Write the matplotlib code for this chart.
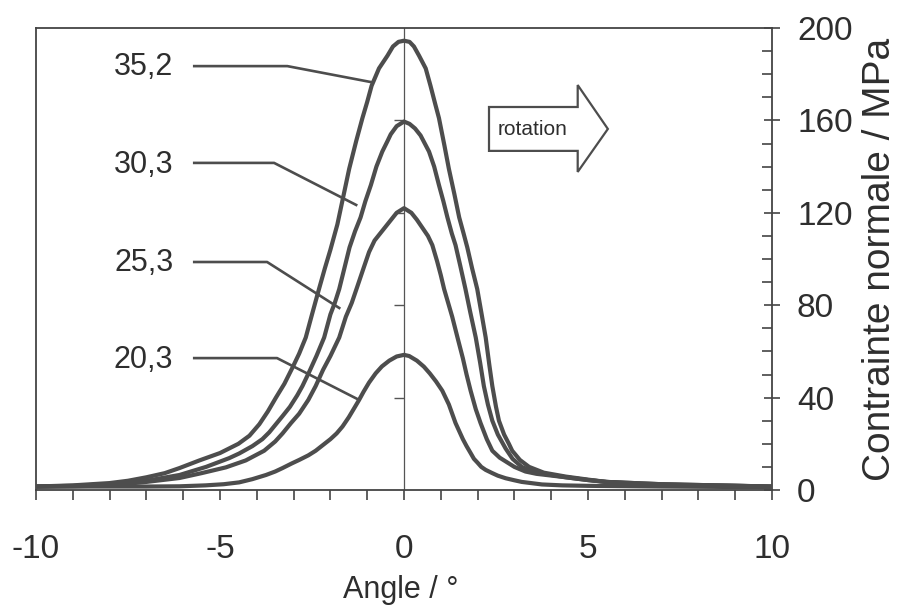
import numpy as np
import matplotlib
matplotlib.use("Agg")
import matplotlib.pyplot as plt
from matplotlib.patches import Polygon

plt.rcParams['axes.unicode_minus'] = False
NARROW = ['Liberation Sans Narrow', 'Liberation Sans', 'DejaVu Sans']
REG = ['Liberation Sans', 'DejaVu Sans']

# ---- data ----
labels = ["35,2", "30,3", "25,3", "20,3"]

x_352 = [-10, -9, -8, -7.5, -7, -6.5, -6.1, -5.56, -5.0, -4.5, -4.2, -3.93, -3.7, -3.48, -3.25,
         -3.03, -2.85, -2.67, -2.5, -2.31, -2.15, -2.0, -1.81, -1.65, -1.49, -1.3, -1.13, -1.0,
         -0.88, -0.68, -0.45, -0.3, -0.15, 0, 0.15, 0.27, 0.41, 0.59, 0.72, 0.85, 0.95, 1.1,
         1.22, 1.37, 1.5, 1.62, 1.72, 1.85, 1.99, 2.1, 2.22, 2.32, 2.4, 2.5, 2.58, 2.72, 2.85,
         2.94, 3.15, 3.4, 3.8, 4.4, 5.0, 5.5, 6.5, 8, 9, 10]
y_352 = [1.5, 2, 3, 4, 5.5, 7.3, 9.5, 12.8, 16, 20, 23.5, 28.5, 34, 40, 46,
         53, 59, 66, 76, 87, 96, 104, 115, 127, 139, 151, 161, 168,
         175, 182.5, 188, 192, 194, 194.5, 194, 192, 188, 182.5, 175, 167, 161, 149,
         139, 128, 118, 111, 105, 96, 87, 77, 66, 54, 45, 36, 30, 24, 20,
         17, 13, 10, 7.5, 5.8, 4.5, 3.5, 2.5, 2, 1.8, 1.5]

x_303 = [-10, -9, -8, -7, -6.1, -5.38, -4.75, -4.48, -4.12, -3.85, -3.66, -3.48, -3.3, -3.1,
         -2.9, -2.76, -2.58, -2.38, -2.17, -2.0, -1.88, -1.76, -1.62, -1.48, -1.33, -1.18,
         -1.05, -0.9, -0.75, -0.59, -0.45, -0.36, -0.2, 0, 0.15, 0.3, 0.45, 0.68, 0.82, 0.95,
         1.07, 1.18, 1.3, 1.4, 1.53, 1.67, 1.8, 1.95, 2.07, 2.17, 2.28, 2.4, 2.55, 2.76, 2.95,
         3.2, 3.5, 3.8, 4.4, 5.0, 5.5, 7, 8.5, 10]
y_303 = [1.5, 1.8, 2.5, 4, 6.5, 10, 13.8, 15.8, 19, 22, 25, 28.5, 32, 36,
         41, 45, 51, 58, 66, 76, 81, 87, 96, 105, 112, 118,
         125, 132, 140, 146.5, 151, 154, 157.5, 159.5, 158.5, 156.5, 153.5, 146.5, 140, 132,
         125, 118, 111, 106, 97, 87, 77, 66, 55, 45, 37, 30, 24, 18, 13.5,
         10, 8, 7, 5.5, 4.3, 3.5, 2.5, 2, 1.5]

x_253 = [-10, -9, -8, -7, -6.1, -5.5, -4.84, -4.3, -3.8, -3.5, -3.3, -3.07, -2.85, -2.6, -2.4,
         -2.2, -2.0, -1.76, -1.58, -1.42, -1.27, -1.1, -0.95, -0.8, -0.65, -0.5, -0.35, -0.2,
         0, 0.2, 0.35, 0.5, 0.65, 0.77, 0.9, 1.0, 1.09, 1.2, 1.31, 1.47, 1.6, 1.7, 1.81, 1.95,
         2.08, 2.25, 2.4, 2.6, 2.8, 3.0, 3.3, 3.6, 4.4, 5.0, 5.5, 7, 8.5, 10]
y_253 = [1.5, 1.6, 2, 3.5, 5.2, 7.3, 9.8, 12.8, 17, 21, 24.5, 29, 33, 39, 45,
         52, 58, 66, 75, 81, 88, 96, 103, 108, 111, 114, 117, 120,
         122, 120, 117, 113.5, 110, 106, 99, 93, 87, 81, 75, 65, 57, 50, 43, 35,
         29, 22, 17, 14, 12, 10, 8, 7, 5.5, 4.3, 3.5, 2.5, 2, 1.5]

x_203 = [-10, -9, -8, -7, -6.1, -5.4, -4.9, -4.48, -4.12, -3.75, -3.5, -3.3, -3.05, -2.85, -2.6,
         -2.4, -2.2, -2.0, -1.83, -1.67, -1.5, -1.35, -1.22, -1.1, -0.95, -0.77, -0.6, -0.4,
         -0.2, 0, 0.14, 0.35, 0.54, 0.7, 0.87, 1.04, 1.13, 1.22, 1.31, 1.4, 1.5, 1.6, 1.7,
         1.81, 1.9, 2.0, 2.1, 2.22, 2.4, 2.55, 2.76, 3.0, 3.2, 3.75, 4.3, 5, 7, 10]
y_203 = [1.5, 1.5, 1.5, 1.5, 1.6, 2, 2.5, 3.3, 4.7, 6.5, 8, 9.5, 11.5, 13, 15,
         17, 19.5, 22, 24.5, 27.5, 31.5, 35.5, 39, 42.5, 46.5, 50.5, 53.5, 56,
         57.8, 58.5, 58, 56, 53.4, 50.5, 47, 43, 40, 37, 33, 29, 25.5, 22, 19,
         16, 13.5, 11.8, 10, 8.7, 7.3, 6.2, 5.1, 4.2, 3.5, 2.4, 2.0, 1.8, 1.5, 1.2]

curves_x = [x_352, x_303, x_253, x_203]
curves_y = [y_352, y_303, y_253, y_203]

x_ticks_major = [-10, -5, 0, 5, 10]
y_ticks_major = [0, 40, 80, 120, 160, 200]

# ---- layout constants ----
label_pos = [(-6.27, 179.7), (-6.27, 137.2), (-6.27, 94.8), (-6.27, 52.8)]
leaders = [
    [(-5.70, 183.5), (-3.17, 183.5), (-0.90, 176.6)],
    [(-5.70, 141.6), (-3.53, 141.6), (-1.30, 123.4)],
    [(-5.70, 98.7), (-3.72, 98.7), (-1.76, 78.8)],
    [(-5.70, 57.1), (-3.45, 57.1), (-1.22, 39.0)],
]
arrow_shape = [(2.31, 165.8), (4.72, 165.8), (4.72, 175.3), (5.54, 156.3),
               (4.72, 137.7), (4.72, 146.8), (2.31, 146.8)]

col = '#4d4d4d'
fig = plt.figure(figsize=(9.02, 6.15), dpi=100)
ax = fig.add_axes([36/902, 1-490/615, 736/902, 462/615])

for xs, ys in zip(curves_x, curves_y):
    ax.plot(xs, ys, color=col, lw=3.0, solid_joinstyle='round', solid_capstyle='round', zorder=3)

# central vertical line with small ticks
ax.axvline(0, color='#555555', lw=0.9, zorder=1)
ax.plot([0]*4, [40, 80, 120, 160], ls='none', marker=0, markersize=7,
        markeredgewidth=1.0, color='#555555', zorder=1)

for (tx, ty), lab in zip(label_pos, labels):
    ax.text(tx, ty, lab, ha='right', va='baseline', fontsize=22, family=NARROW, color='#2e2e2e')
for pts in leaders:
    xs = [p[0] for p in pts]
    ys = [p[1] for p in pts]
    ax.plot(xs, ys, color=col, lw=1.9, zorder=4)

ax.add_patch(Polygon(arrow_shape, closed=True, facecolor='white', edgecolor=col, lw=1.6, zorder=5))
ax.text(3.48, 156.0, "rotation", ha='center', va='center', fontsize=15, family=NARROW,
        color='#2e2e2e', zorder=6)

ax.set_xlim(-10, 10)
ax.set_ylim(0, 200)
ax.set_xticks(x_ticks_major)
ax.set_xticklabels([str(v) for v in x_ticks_major])
ax.set_xticks(np.arange(-10, 11, 1), minor=True)
ax.yaxis.tick_right()
ax.set_yticks(y_ticks_major)
ax.set_yticks(np.arange(0, 201, 10), minor=True)

ax.tick_params(axis='x', which='both', direction='out', length=7, width=1.2, color='#444444')
ax.tick_params(axis='x', which='major', pad=25, labelsize=24, labelcolor='#2e2e2e')
ax.tick_params(axis='y', which='major', direction='inout', length=12, width=1.2,
               color='#444444', pad=12, labelsize=24, labelcolor='#2e2e2e')
ax.tick_params(axis='y', which='minor', direction='in', length=7, width=1.2, color='#444444')
for lab in ax.get_xticklabels() + ax.get_yticklabels():
    lab.set_family(NARROW)

for s in ax.spines.values():
    s.set_color('#444444')
    s.set_linewidth(1.3)

ax.set_xlabel("Angle / °", fontsize=22, family=NARROW, color='#2e2e2e')
ax.xaxis.set_label_coords(0.495, -0.216)
ax.xaxis.label.set_va('center')
ax.yaxis.set_label_position('right')
ax.set_ylabel("Contrainte normale / MPa", fontsize=28, family=REG, color='#2e2e2e',
              rotation=90)
ax.yaxis.set_label_coords(1.147, 0.5)
ax.yaxis.label.set_va('center')

fig.savefig("out.png", dpi=100)
